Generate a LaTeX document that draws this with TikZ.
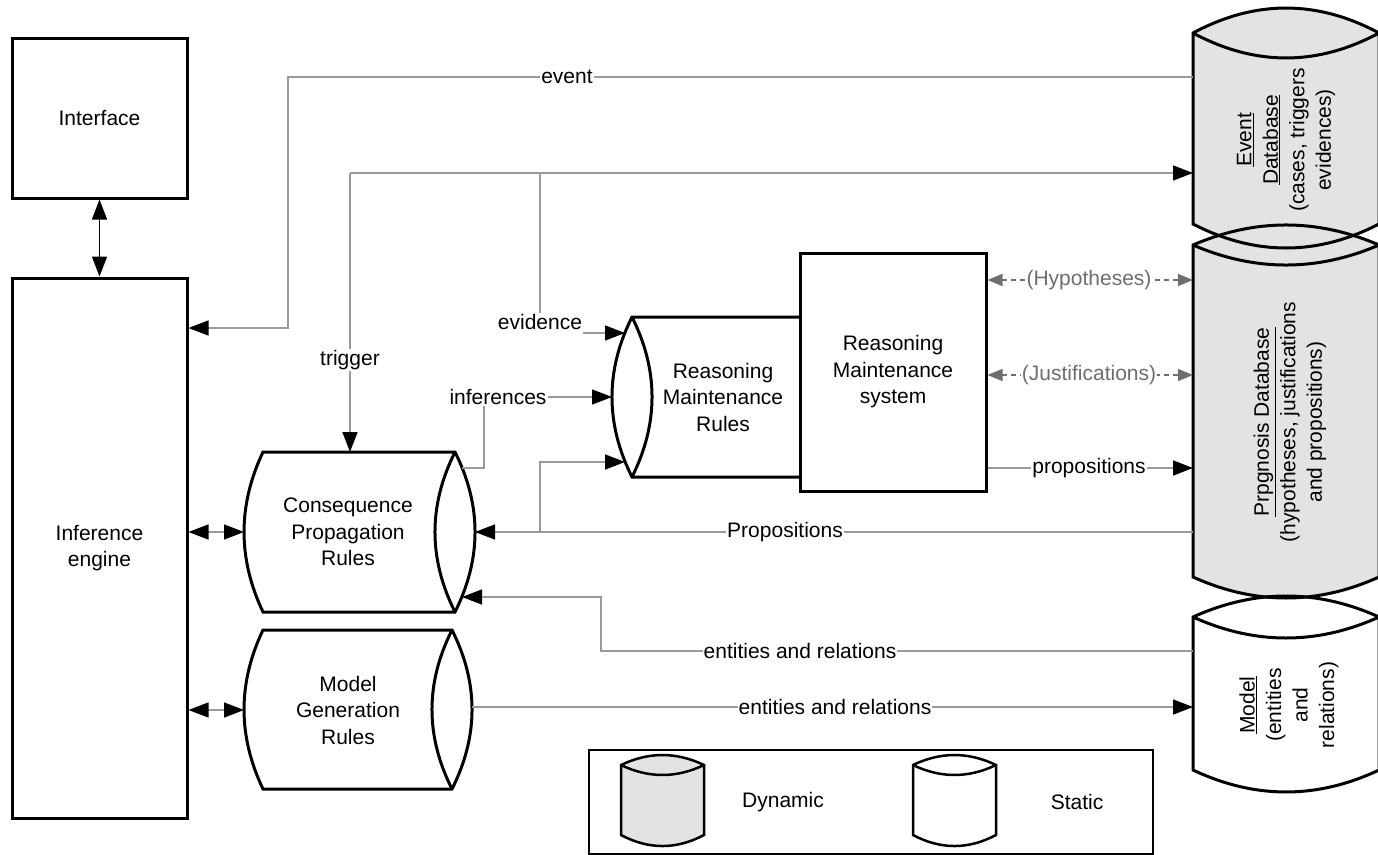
\documentclass[tikz,border=0pt]{standalone}
\usepackage{fontspec}
\setmainfont{Liberation Sans}
\usetikzlibrary{arrows.meta}
\definecolor{dbgray}{HTML}{E3E3E3}
\definecolor{linegray}{HTML}{9A9A9A}
\definecolor{dashgray}{HTML}{6E6E6E}
\tikzset{
  tipb/.tip={Triangle[length=20pt,width=15pt,color=black]},
  tipd/.tip={Triangle[length=15pt,width=12pt,color=dashgray]},
}
\begin{document}
\begin{tikzpicture}[x=1pt,y=-1pt,
  every node/.style={font=\fontsize{21}{26.5}\selectfont, align=center},
  shapeline/.style={line width=3pt, line join=miter},
  boxnode/.style={draw, line width=3pt, fill=white, inner sep=0pt},
  conn/.style={draw=linegray, line width=1.5pt},
  dashconn/.style={draw=dashgray, line width=1.3pt, dash pattern=on 5pt off 4pt, tipd-tipd},
  lab/.style={fill=white, inner sep=1pt},
  dlab/.style={fill=white, inner sep=1pt, text=dashgray},
  legline/.style={line width=2.5pt, line join=miter},
]
\useasboundingbox (0,0) rectangle (1378,854);
\fill[white] (0,0) rectangle (1378,854);

% ---------- databases (right) ----------
% fills
\fill[dbgray] (1193,33) .. controls (1255,-0.3) and (1317,-0.3) .. (1379,33) -- (1379,224) .. controls (1317,256) and (1255,256) .. (1193,224) -- cycle;
\fill[dbgray] (1193,245) .. controls (1255,218.3) and (1317,218.3) .. (1379,245) -- (1379,577) .. controls (1317,605) and (1255,605) .. (1193,577) -- cycle;
\fill[white] (1193,617) .. controls (1255,589) and (1317,589) .. (1379,617) -- (1379,770) .. controls (1317,799.3) and (1255,799.3) .. (1193,770) -- cycle;
% outlines
\draw[shapeline] (1193,33) .. controls (1255,-0.3) and (1317,-0.3) .. (1379,33) -- (1379,224) .. controls (1317,256) and (1255,256) .. (1193,224) -- cycle;
\draw[shapeline] (1193,33) .. controls (1255,66.3) and (1317,66.3) .. (1379,33);
\draw[shapeline] (1193,245) .. controls (1255,218.3) and (1317,218.3) .. (1379,245) -- (1379,577) .. controls (1317,605) and (1255,605) .. (1193,577) -- cycle;
\draw[shapeline] (1193,245) .. controls (1255,271.7) and (1317,271.7) .. (1379,245);
\draw[shapeline] (1193,617) .. controls (1255,589) and (1317,589) .. (1379,617) -- (1379,770) .. controls (1317,799.3) and (1255,799.3) .. (1193,770) -- cycle;
\draw[shapeline] (1193,617) .. controls (1255,645) and (1317,645) .. (1379,617);

\node[rotate=90] (evdb) at (1286,140) {\underline{Event}\\\underline{Database}\\(cases, triggers\\evidences)};
\node[rotate=90] (progdb) at (1290,422) {\underline{Prpgnosis Database}\\(hypotheses, justifications\\and propositions)};
\node[rotate=90] (modeldb) at (1289,705) {\underline{Model}\\(entities\\and\\relations)};

\coordinate (evIn) at (1193,77);
\coordinate (evTr) at (1193,173);
\coordinate (pgHyp) at (1193,280);
\coordinate (pgJus) at (1193,375);
\coordinate (pgProp) at (1193,468);
\coordinate (pgProps) at (1193,532);
\coordinate (mdEnt) at (1193,651);
\coordinate (mdIn) at (1193,707);

% ---------- left boxes ----------
\node[boxnode, minimum width=175pt, minimum height=160pt] (iface) at (99.5,118) {Interface};
\node[boxnode, minimum width=175pt, minimum height=540pt] (ie) at (99.5,548) {Inference\\engine};

% ---------- rule cylinders ----------
\draw[shapeline, fill=white] (263,452) -- (455,452) .. controls (481.7,505.3) and (481.7,558.7) .. (455,612) -- (263,612) .. controls (237.7,558.7) and (237.7,505.3) .. (263,452) -- cycle;
\draw[shapeline] (455,452) .. controls (428.3,505.3) and (428.3,558.7) .. (455,612);
\node (cpr) at (348,532) {Consequence\\Propagation\\Rules};

\draw[shapeline, fill=white] (263,630) -- (452,630) .. controls (478.7,683) and (478.7,736) .. (452,789) -- (263,789) .. controls (237.7,736) and (237.7,683) .. (263,630) -- cycle;
\draw[shapeline] (452,630) .. controls (425.3,683) and (425.3,736) .. (452,789);
\node (mgr) at (348,710) {Model\\Generation\\Rules};

\draw[shapeline, fill=white] (632,317) -- (800,317) .. controls (826.7,370.3) and (826.7,423.7) .. (800,477) -- (632,477) .. controls (605.3,423.7) and (605.3,370.3) .. (632,317) -- cycle;
\draw[shapeline] (632,317) .. controls (658.7,370.3) and (658.7,423.7) .. (632,477);
\node (rmr) at (723,397) {Reasoning\\Maintenance\\Rules};

\node[boxnode, minimum width=186pt, minimum height=238pt] (rms) at (893,372) {Reasoning\\Maintenance\\system};

\coordinate (cprTop) at (350,452);
\coordinate (cprL) at (244,532);
\coordinate (cprR) at (475,532);
\coordinate (cprInf) at (462,468);
\coordinate (cprEnt) at (462,597);
\coordinate (mgrL) at (244,710);
\coordinate (mgrR) at (472,707);
\coordinate (rmrEv) at (625,333);
\coordinate (rmrInf) at (612,397);
\coordinate (rmrProp) at (625,462);

% ---------- connectors ----------
\draw[line width=1.5pt, tipb-tipb] (iface.south) -- (ie.north);
\draw[conn, tipb-tipb] (ie.east |- cprL) -- (cprL);
\draw[conn, tipb-tipb] (ie.east |- mgrL) -- (mgrL);

% event
\coordinate (evCorner) at (288,328);
\draw[conn, -tipb] (evIn) -- (evIn -| evCorner) -- (evCorner) -- (evCorner -| ie.east);
\node[lab] (evlabel) at (567,77) {event};

% trigger / evidence
\coordinate (trJ) at (350,173);
\coordinate (evJ) at (540,173);
\draw[conn, -tipb] (trJ) -- (evTr);
\draw[conn, -tipb] (trJ) -- (cprTop);
\node[lab] (trlab) at (350,360) {trigger};
\node[lab] (evlab) at (540,322) {evidence};
\draw[conn] (evJ) -- (evlab.north);
\draw[conn, -tipb] (evlab.east |- rmrEv) -- (rmrEv);

% inferences
\node[lab] (inflab) at (498,397) {inferences};
\coordinate (infCorner) at (484,468);
\draw[conn] (cprInf) -- (infCorner) -- (infCorner |- inflab.south);
\draw[conn, -tipb] (inflab.east) -- (rmrInf);

% Propositions
\coordinate (prJ) at (540,532);
\draw[conn, -tipb] (pgProps) -- (cprR);
\draw[conn, -tipb] (prJ) -- (prJ |- rmrProp) -- (rmrProp);
\node[lab] (propslab) at (785,532) {Propositions};

% RMS <-> Prognosis DB
\draw[dashconn] (rms.east |- pgHyp) -- (pgHyp);
\node[dlab] (hyplab) at (1089,280) {(Hypotheses)};
\draw[dashconn] (rms.east |- pgJus) -- (pgJus);
\node[dlab] (juslab) at (1089,375) {(Justifications)};
\draw[conn, -tipb] (rms.east |- pgProp) -- (pgProp);
\node[lab] (proplab) at (1089,468) {propositions};

% entities and relations
\coordinate (entCorner) at (601,651);
\draw[conn, -tipb] (mdEnt) -- (entCorner) -- (entCorner |- cprEnt) -- (cprEnt);
\node[lab] (entlab1) at (800,651) {entities and relations};
\draw[conn, -tipb] (mgrR) -- (mdIn);
\node[lab] (entlab2) at (835,707) {entities and relations};

% ---------- legend ----------
\node[draw, line width=2pt, minimum width=564pt, minimum height=104pt, inner sep=0pt] (legend) at (871,802) {};
\draw[legline, fill=dbgray] (621,765) .. controls (648.7,751.7) and (676.3,751.7) .. (704,765) -- (704,835) .. controls (676.3,849.7) and (648.7,849.7) .. (621,835) -- cycle;
\draw[legline] (621,765) .. controls (648.7,778.3) and (676.3,778.3) .. (704,765);
\draw[legline, fill=white] (913,765) .. controls (940.7,751.7) and (968.3,751.7) .. (996,765) -- (996,835) .. controls (968.3,849.7) and (940.7,849.7) .. (913,835) -- cycle;
\draw[legline] (913,765) .. controls (940.7,778.3) and (968.3,778.3) .. (996,765);
\node (legdyn) at (783,802) {Dynamic};
\node (legsta) at (1077,802) {Static};
\end{tikzpicture}
\end{document}
